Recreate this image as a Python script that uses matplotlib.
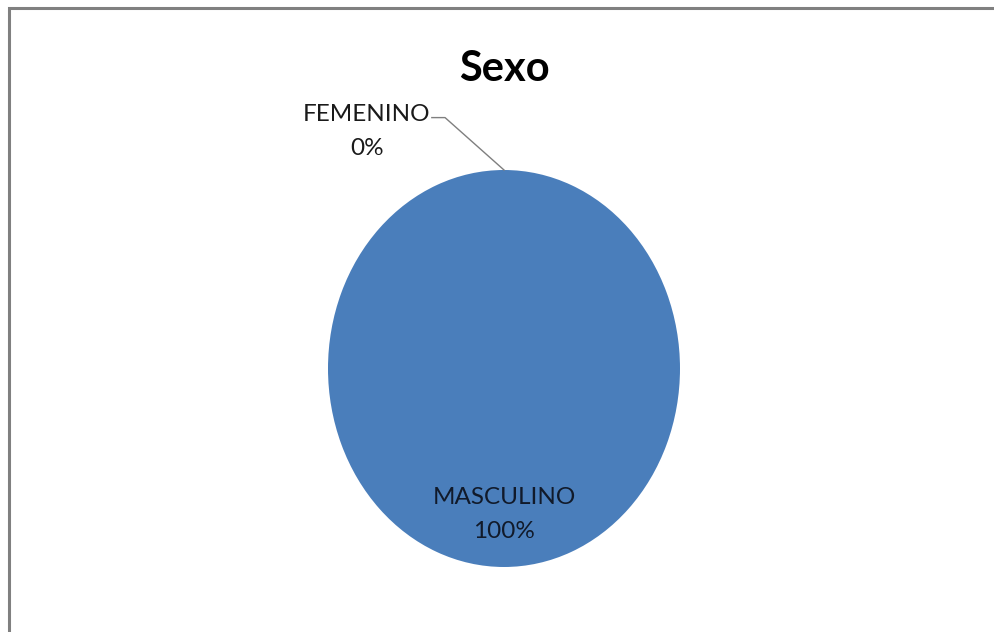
import matplotlib
matplotlib.use("Agg")
import matplotlib.pyplot as plt
import numpy as np
from matplotlib.patches import Rectangle

# Distribution by sex
labels = ["FEMENINO", "MASCULINO"]
values = [0, 100]
colors = ["#C0504D", "#4A7EBB"]
title = "Sexo"

W, H = 994, 632
plt.rcParams["font.family"] = ["Lato", "DejaVu Sans"]

fig = plt.figure(figsize=(W / 100, H / 100), dpi=100)
fig.patch.set_facecolor("white")

# chart frame (only top/left edges fall inside the canvas)
fig.patches.append(Rectangle((8.5 / W, -0.1), 1.2, 1.1 - 7.5 / H,
                             transform=fig.transFigure, fill=False,
                             edgecolor="#808080", linewidth=2.2))

ax = fig.add_axes([328 / W, (H - 567) / H, 352 / W, 397 / H])
wedges, _ = ax.pie(values, colors=colors, startangle=90, counterclock=False,
                   radius=1, wedgeprops=dict(linewidth=0))
ax.set_aspect("auto")
ax.set_xlim(-1, 1)
ax.set_ylim(-1, 1)
ax.axis("off")

total = sum(values)
for w, lab, v in zip(wedges, labels, values):
    pct = v / total * 100
    mid = np.deg2rad((w.theta1 + w.theta2) / 2)
    x, y = np.cos(mid), np.sin(mid)
    txt = f"{lab}\n{pct:.0f}%"
    if v == 0:
        # outside label with leader line
        elbow = (-0.335, 1.264)
        end = (-0.41, 1.264)
        ax.plot([x, elbow[0], end[0]], [y, elbow[1], end[1]],
                color="#7f7f7f", lw=1, clip_on=False)
        ax.text(-0.78, 1.195, txt, ha="center", va="center", fontsize=17.5,
                color="#1a1a1a", linespacing=1.75, clip_on=False)
    else:
        r = 0.735
        ax.text(r * x, r * y, txt, ha="center", va="center", fontsize=17.5,
                color="#111a2a", linespacing=1.75)

fig.text(504 / W, 1 - 69 / H, title, ha="center", va="center",
         fontsize=30, fontweight="bold", color="black")

fig.savefig("out.png", dpi=100)
